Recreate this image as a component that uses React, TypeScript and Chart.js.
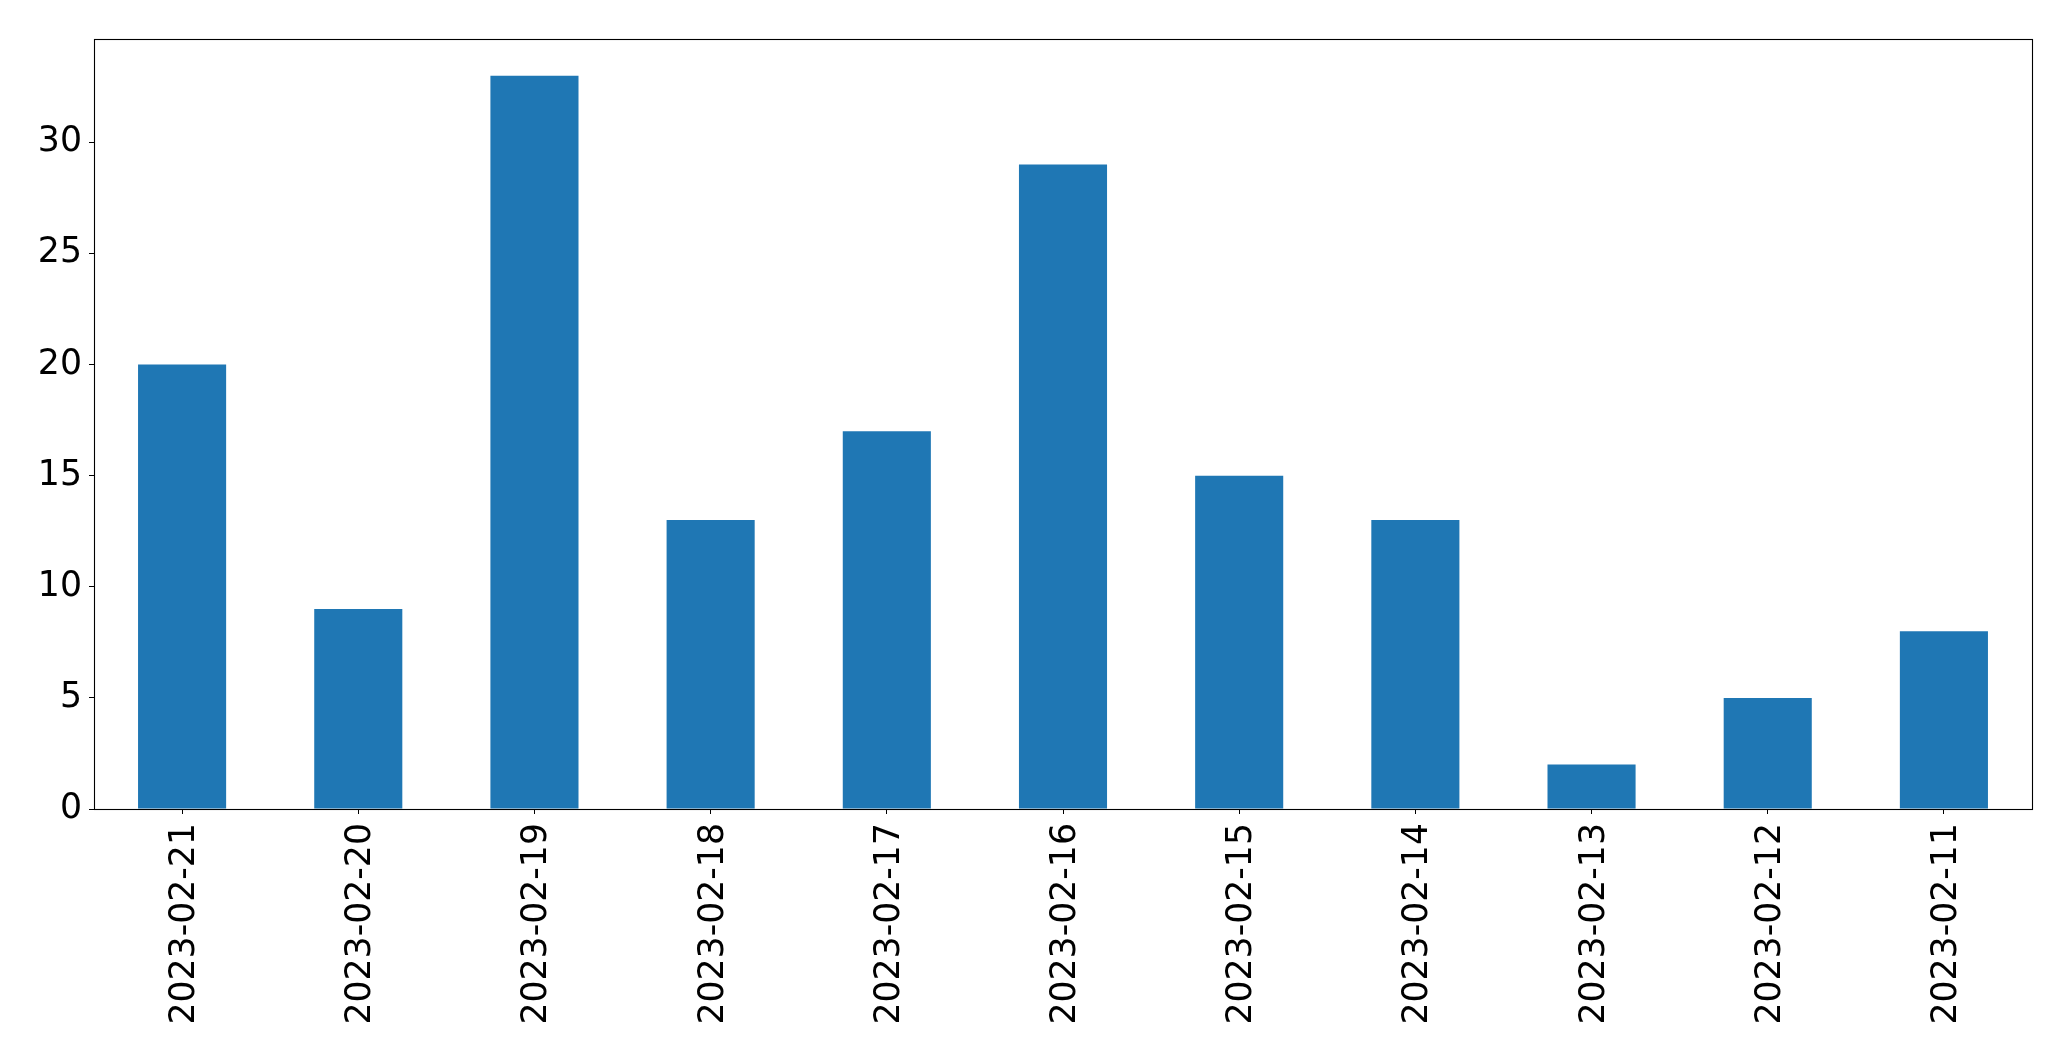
import React, { useEffect, useRef } from "react";
import { Chart, registerables } from "chart.js";

Chart.register(...registerables);

const categories = [
  "2023-02-21", "2023-02-20", "2023-02-19", "2023-02-18", "2023-02-17", "2023-02-16",
  "2023-02-15", "2023-02-14", "2023-02-13", "2023-02-12", "2023-02-11",
];
const values = [20, 9, 33, 13, 17, 29, 15, 13, 2, 5, 8];
const yMax = 34.65;
const yStep = 5;

const W = 2071;
const H = 1061;
const FONT = "'DejaVu Sans', sans-serif";

const framePlugin = {
  id: "frame",
  afterDraw(chart: any) {
    const { ctx, chartArea } = chart;
    ctx.save();
    ctx.strokeStyle = "#000";
    ctx.lineWidth = 1.1;
    ctx.strokeRect(
      Math.round(chartArea.left) + 0.5,
      Math.round(chartArea.top) + 0.5,
      Math.round(chartArea.right - chartArea.left),
      Math.round(chartArea.bottom - chartArea.top)
    );
    ctx.restore();
  },
};

export default function App() {
  const ref = useRef<HTMLCanvasElement | null>(null);
  useEffect(() => {
    if (!ref.current) return;
    const chart = new Chart(ref.current, {
      type: "bar",
      data: {
        labels: categories,
        datasets: [
          {
            data: values,
            backgroundColor: "#1f77b4",
            borderWidth: 0,
            barPercentage: 0.5,
            categoryPercentage: 1,
          },
        ],
      },
      options: {
        responsive: false,
        animation: false,
        devicePixelRatio: 1,
        layout: { padding: { left: 0, top: 39, right: 39, bottom: 0 } },
        plugins: { legend: { display: false }, tooltip: { enabled: false } },
        scales: {
          x: {
            type: "category",
            offset: true,
            border: { display: false },
            grid: {
              display: true,
              offset: false,
              drawOnChartArea: false,
              drawTicks: true,
              tickLength: 5,
              color: "#000",
              lineWidth: 1,
            },
            ticks: {
              color: "#000",
              font: { family: FONT, size: 34.7 },
              minRotation: 90,
              maxRotation: 90,
              autoSkip: false,
              padding: 9,
              labelOffset: 3,
            },
            afterFit(scale: any) {
              scale.height = H - 809;
            },
          },
          y: {
            min: 0,
            max: yMax,
            border: { display: false },
            grid: {
              display: true,
              drawOnChartArea: false,
              drawTicks: true,
              tickLength: 5,
              color: "#000",
              lineWidth: 1,
            },
            ticks: {
              stepSize: yStep,
              includeBounds: false,
              color: "#000",
              font: { family: FONT, size: 34.7 },
              padding: 7,
            },
            afterFit(scale: any) {
              scale.width = 94;
            },
          },
        },
      },
      plugins: [framePlugin],
    } as any);
    return () => chart.destroy();
  }, []);
  return (
    <div style={{ position: "fixed", left: 0, top: 0, width: W, height: H, background: "#fff" }}>
      <canvas ref={ref} width={W} height={H} style={{ display: "block", width: W, height: H }} />
    </div>
  );
}
